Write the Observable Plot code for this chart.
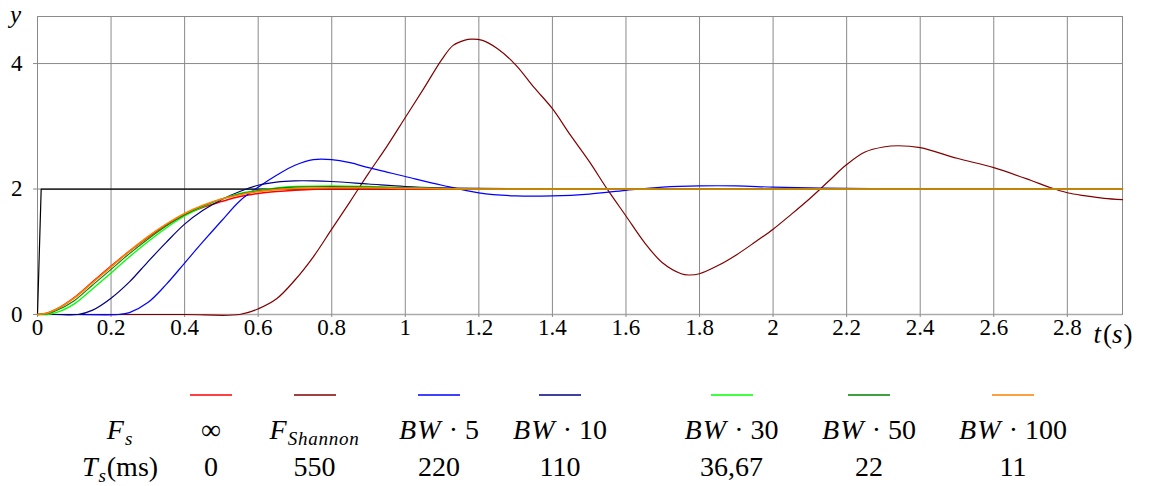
<!DOCTYPE html>
<html><head><meta charset="utf-8">
<script src="https://cdn.jsdelivr.net/npm/d3@7"></script>
<script src="https://cdn.jsdelivr.net/npm/@observablehq/plot@0.6"></script>
<style>
body{margin:0;background:#fff;}
#chart svg{display:block;}
.legend{position:relative;width:1156px;height:126px;font-family:"Liberation Serif",serif;font-size:28px;color:#000;}
.legend .cell{position:absolute;transform:translate(-50%,-50%);white-space:nowrap;line-height:1;}
.legend svg.swatch{position:absolute;display:block;overflow:visible;}
.legend i{font-style:italic;letter-spacing:0.04em}
.legend sub{font-size:0.68em;vertical-align:-0.3em;line-height:0}
</style></head><body>
<div id="chart"></div>
<div class="legend" id="legend"></div>
<script>
// ---------- data ----------
const xTicks = [0, 0.2, 0.4, 0.6, 0.8, 1, 1.2, 1.4, 1.6, 1.8, 2, 2.2, 2.4, 2.6, 2.8];
const yTicks = [0, 2, 4];

const tStep = [0, 0.01, 2.95];
const yStep = [0, 2, 2];

const tFast = [0, 0.025, 0.05, 0.1, 0.15, 0.2, 0.25, 0.3, 0.35, 0.4, 0.45, 0.5, 0.55, 0.6, 0.65, 0.7, 0.8, 0.9, 1.0, 1.2, 2.95];
const yInf   = [0, 0.02, 0.08, 0.27, 0.52, 0.77, 1.01, 1.23, 1.43, 1.59, 1.71, 1.80, 1.88, 1.93, 1.96, 1.98, 2.0, 2.0, 2.0, 2.0, 2.0];
const yBw100 = [0, 0.02, 0.08, 0.26, 0.51, 0.76, 1.01, 1.24, 1.44, 1.61, 1.74, 1.84, 1.91, 1.96, 1.99, 2.01, 2.02, 2.02, 2.01, 2.0, 2.0];
const yBw50  = [0, 0.01, 0.06, 0.22, 0.47, 0.72, 0.97, 1.20, 1.41, 1.59, 1.73, 1.84, 1.92, 1.97, 2.01, 2.03, 2.04, 2.03, 2.02, 2.0, 2.0];
const yBw30  = [0, 0.0, 0.03, 0.17, 0.41, 0.66, 0.92, 1.16, 1.38, 1.57, 1.72, 1.84, 1.93, 1.98, 2.02, 2.04, 2.05, 2.04, 2.02, 2.0, 2.0];

const tBw10 = [0, 0.05, 0.11, 0.15, 0.2, 0.25, 0.3, 0.35, 0.4, 0.45, 0.5, 0.55, 0.6, 0.65, 0.7, 0.75, 0.8, 0.9, 1.0, 1.1, 1.2, 1.4, 2.0, 2.95];
const yBw10 = [0, 0, 0, 0.07, 0.26, 0.52, 0.84, 1.15, 1.44, 1.66, 1.83, 1.96, 2.06, 2.11, 2.13, 2.13, 2.12, 2.08, 2.04, 2.02, 2.01, 2.0, 2.0, 2.0];

const tBw5 = [0, 0.1, 0.22, 0.25, 0.3, 0.35, 0.4, 0.45, 0.5, 0.55, 0.6, 0.65, 0.7, 0.75, 0.8, 0.85, 0.9, 0.95, 1.0, 1.1, 1.2, 1.3, 1.4, 1.5, 1.6, 1.7, 1.8, 1.9, 2.0, 2.1, 2.2, 2.4, 2.7, 2.95];
const yBw5 = [0, 0, 0, 0.03, 0.19, 0.48, 0.82, 1.16, 1.49, 1.81, 2.03, 2.22, 2.38, 2.47, 2.47, 2.42, 2.34, 2.27, 2.20, 2.06, 1.94, 1.89, 1.89, 1.92, 1.98, 2.03, 2.05, 2.05, 2.03, 2.02, 2.01, 2.0, 2.0, 2.0];

const tShannon = [0, 0.2, 0.4, 0.55, 0.6, 0.65, 0.7, 0.75, 0.8, 0.85, 0.9, 0.95, 1.0, 1.05, 1.1, 1.13, 1.16, 1.18, 1.21, 1.25, 1.3, 1.35, 1.4, 1.45, 1.5, 1.55, 1.6, 1.65, 1.7, 1.75, 1.77, 1.8, 1.85, 1.9, 1.95, 2.0, 2.05, 2.1, 2.15, 2.2, 2.25, 2.3, 2.34, 2.4, 2.5, 2.6, 2.7, 2.75, 2.8, 2.85, 2.9, 2.95];
const yShannon = [0, 0, 0, 0, 0.09, 0.25, 0.55, 0.92, 1.36, 1.8, 2.25, 2.68, 3.14, 3.6, 4.07, 4.29, 4.37, 4.39, 4.37, 4.24, 3.98, 3.62, 3.28, 2.85, 2.44, 1.99, 1.57, 1.15, 0.82, 0.65, 0.63, 0.65, 0.78, 0.95, 1.15, 1.36, 1.6, 1.85, 2.12, 2.39, 2.59, 2.67, 2.69, 2.66, 2.49, 2.34, 2.14, 2.03, 1.94, 1.89, 1.85, 1.83];

// legend texts (HTML for math)
const legendFs = ["∞", "<i>F</i><sub><i>Shannon</i></sub>", "<i>BW</i>\u2005·\u20055", "<i>BW</i>\u2005·\u200510", "<i>BW</i>\u2005·\u200530", "<i>BW</i>\u2005·\u200550", "<i>BW</i>\u2005·\u2005100"];
const legendTs = ["0", "550", "220", "110", "36,67", "22", "11"];
const rowLabels = ["<i>F</i><sub><i>s</i></sub>", "<i>T</i><sub><i>s</i></sub>(ms)"];

// ---------- styles ----------
const colors = ["#ff0000", "#800000", "#0000ff", "#000080", "#00ff00", "#008000", "#ff8000"];
const widths = [1.6, 1.2, 1.2, 1.2, 1.3, 1.1, 1.6];
const curves = ["monotone-x", "catmull-rom", "catmull-rom", "catmull-rom", "monotone-x", "monotone-x", "monotone-x"];
const legendX = [211, 314.5, 439, 560, 731.5, 869, 1013];
const labelX = 120;

const seriesT = [tFast, tShannon, tBw5, tBw10, tFast, tFast, tFast];
const seriesY = [yInf, yShannon, yBw5, yBw10, yBw30, yBw50, yBw100];

const toRows = (ts, ys) => ts.map((t, i) => ({t, y: ys[i]}));
const grid = "#8a8a8a";

const lineMarks = seriesT.map((ts, k) =>
  Plot.line(toRows(ts, seriesY[k]), {x: "t", y: "y", stroke: colors[k], strokeWidth: widths[k], curve: curves[k]})
);

const chart = Plot.plot({
  width: 1156,
  height: 360,
  marginLeft: 37,
  marginRight: 34,
  marginTop: 16,
  marginBottom: 46,
  style: {fontFamily: "'Liberation Serif', serif", background: "#fff", color: "#000"},
  x: {domain: [0, 2.95]},
  y: {domain: [0, 4.75]},
  marks: [
    Plot.gridX(xTicks.slice(1), {stroke: grid, strokeOpacity: 1, strokeWidth: 1}),
    Plot.gridY(yTicks.slice(1), {stroke: grid, strokeOpacity: 1, strokeWidth: 1}),
    Plot.frame({stroke: grid, strokeWidth: 1}),
    Plot.ruleY([0], {stroke: "#aaa", strokeWidth: 1.6}),
    Plot.axisX(xTicks, {tickSize: 3, tickPadding: 1, fontSize: 23, stroke: grid, fill: "#000",
      tickFormat: d => String(+d.toFixed(1)), label: null}),
    Plot.axisY(yTicks, {tickSize: 4, tickPadding: 11, fontSize: 23, stroke: grid, fill: "#000",
      tickFormat: d => String(d), label: null}),
    Plot.line(toRows(tStep, yStep), {x: "t", y: "y", stroke: "#000", strokeWidth: 1.2}),
    ...lineMarks,
    Plot.text(["y"], {text: d => d, frameAnchor: "top-left", dx: -22, dy: -11, fontSize: 25, fontStyle: "italic", textAnchor: "middle", fill: "#000"}),
    Plot.text(["t(s)"], {text: d => d, frameAnchor: "bottom-right", dx: -29, dy: 28, fontSize: 27, textAnchor: "start", fill: "#000"})
  ]
});

// math styling for t(s)
d3.select(chart).selectAll("text").filter(function() { return this.textContent === "t(s)"; })
  .each(function() {
    const sel = d3.select(this);
    sel.text("");
    sel.append("tspan").attr("font-style", "italic").text("t");
    sel.append("tspan").attr("dx", 2).text("(");
    sel.append("tspan").attr("font-style", "italic").text("s");
    sel.append("tspan").attr("dx", 1).text(")");
  });

document.getElementById("chart").append(chart);

// legend
const leg = d3.select("#legend");
legendFs.forEach((s, i) => {
  const sw = leg.append("svg").attr("class", "swatch")
    .attr("width", 42).attr("height", 4)
    .style("left", (legendX[i] - 21) + "px").style("top", "32.5px");
  sw.append("line").attr("x1", 0).attr("x2", 42).attr("y1", 2).attr("y2", 2)
    .attr("stroke", colors[i]).attr("stroke-width", 1.4);
  leg.append("div").attr("class", "cell").style("left", legendX[i] + "px").style("top", "70px").html(s);
  leg.append("div").attr("class", "cell").style("left", legendX[i] + "px").style("top", "106.5px").html(legendTs[i]);
});
leg.append("div").attr("class", "cell").style("left", labelX + "px").style("top", "70px").html(rowLabels[0]);
leg.append("div").attr("class", "cell").style("left", labelX + "px").style("top", "106.5px").html(rowLabels[1]);
</script>
</body></html>
